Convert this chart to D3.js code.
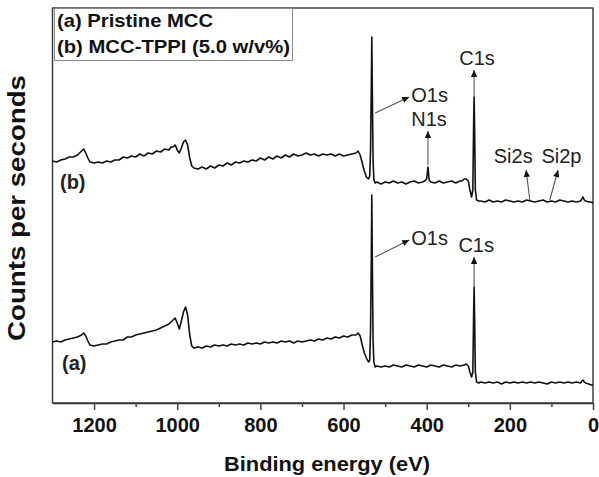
<!DOCTYPE html>
<html>
<head>
<meta charset="utf-8">
<script src="https://cdn.jsdelivr.net/npm/d3@7"></script>
<style>
  body { margin: 0; background: #fff; }
  svg { display: block; font-family: "Liberation Sans", Arial, sans-serif; }
</style>
</head>
<body>
<div id="chartDiv"></div>
<script>
// binding energy (eV) vs counts (a.u.)
var spectrumA = [[1300,61],[1290,62],[1280,61],[1270,63],[1260,64],[1250,65],[1240,66],[1235,67],[1230,68],[1225,70],[1220,67],[1215,62],[1210,58],[1200,57],[1190,58],[1180,59],[1170,59],[1160,61],[1150,62],[1140,63],[1130,63],[1120,66],[1110,66],[1100,68],[1090,69],[1080,70],[1070,71],[1060,72],[1050,73],[1040,75],[1030,77],[1020,79],[1015,81],[1010,83],[1005,85],[1000,80],[995,74],[990,82],[985,91],[980,96],[975,88],[970,68],[965,57],[960,55],[950,56],[940,55],[930,57],[920,56],[910,58],[900,57],[890,58],[880,57],[870,59],[860,58],[850,59],[840,58],[830,60],[820,59],[810,60],[800,59],[790,61],[780,60],[770,61],[760,60],[750,62],[740,61],[730,62],[720,60],[710,62],[700,61],[690,62],[680,63],[670,62],[660,64],[650,63],[640,65],[630,64],[620,66],[610,65],[600,67],[590,66],[580,68],[570,68],[565,70],[560,67],[555,58],[550,50],[545,45],[540,41],[537,43],[535,73],[533,153],[532,208],[531,153],[529,63],[527,41],[524,36],[520,37],[510,36],[500,37],[490,36],[480,38],[470,37],[460,36],[450,38],[440,37],[430,36],[420,38],[410,37],[400,36],[390,38],[380,37],[370,36],[360,38],[350,37],[340,36],[330,38],[320,37],[310,38],[305,39],[300,37],[296,31],[292,26],[289,31],[287,93],[286,116],[285,93],[283,31],[280,21],[275,20],[270,21],[260,20],[250,21],[240,20],[230,21],[220,19],[210,21],[200,20],[190,21],[180,20],[170,21],[160,20],[150,21],[140,20],[130,21],[120,20],[110,19],[100,21],[90,20],[80,21],[70,20],[60,21],[50,20],[40,21],[30,20],[27,22],[24,23],[21,21],[18,20],[10,19],[5,18],[0,18]];

var spectrumB = [[1300,242],[1290,241],[1280,243],[1270,244],[1260,246],[1250,246],[1240,248],[1235,250],[1230,252],[1225,254],[1220,250],[1215,245],[1210,241],[1200,240],[1190,241],[1180,240],[1170,242],[1160,241],[1150,243],[1140,243],[1130,246],[1120,245],[1110,247],[1100,246],[1090,249],[1080,247],[1070,250],[1060,249],[1050,252],[1040,251],[1030,254],[1020,253],[1015,256],[1010,256],[1005,258],[1000,253],[995,250],[990,255],[985,261],[980,263],[975,258],[970,245],[965,237],[960,235],[950,234],[940,236],[930,234],[920,237],[910,235],[900,238],[890,237],[880,240],[870,238],[860,241],[850,240],[840,242],[830,241],[820,243],[810,242],[800,245],[790,243],[780,246],[770,244],[760,247],[750,245],[740,248],[730,246],[720,249],[710,247],[700,248],[690,250],[680,248],[670,249],[660,247],[650,249],[640,248],[630,249],[620,247],[610,249],[600,247],[590,248],[580,249],[570,250],[565,252],[560,248],[555,240],[550,232],[545,226],[540,224],[537,227],[535,253],[533,323],[532,366],[531,323],[529,243],[527,223],[524,220],[520,221],[510,219],[500,221],[490,220],[480,222],[470,220],[460,221],[450,219],[440,221],[430,222],[420,220],[410,221],[405,222],[400,224],[397,236],[394,223],[390,221],[380,220],[370,222],[360,220],[350,221],[340,222],[330,220],[320,222],[315,222],[310,224],[305,224],[300,222],[296,213],[292,206],[289,213],[287,283],[286,306],[285,283],[283,213],[280,203],[275,202],[270,202],[260,201],[250,203],[240,201],[230,202],[220,201],[210,203],[200,202],[190,201],[180,202],[170,201],[160,203],[150,202],[140,201],[130,202],[120,203],[110,201],[100,202],[90,201],[80,203],[70,202],[60,201],[50,202],[40,201],[30,202],[27,204],[24,206],[21,203],[18,202],[10,201],[5,201],[0,200]];

var majorTicks = [1200, 1000, 800, 600, 400, 200, 0];
var minorTicks = [1100, 900, 700, 500, 300, 100];
var legendLabels = ["(a) Pristine MCC", "(b) MCC-TPPI (5.0 w/v%)"];

// peak labels and arrows, in data units (energy, counts)
var peakLabels = [
  {text: "O1s", e: 437, c: 301, anchor: "start"},
  {text: "N1s", e: 437, c: 277, anchor: "start"},
  {text: "C1s", e: 279, c: 338, anchor: "middle"},
  {text: "Si2s", e: 192, c: 240, anchor: "middle"},
  {text: "Si2p", e: 76, c: 240, anchor: "middle"},
  {text: "O1s", e: 437, c: 158, anchor: "start"},
  {text: "C1s", e: 281, c: 151, anchor: "middle"}
];
var peakArrows = [
  [524, 290, 442, 306],
  [397, 238, 397, 272],
  [286, 306, 286, 333],
  [152, 203, 161, 233],
  [104, 203, 84, 233],
  [524, 146, 442, 163],
  [286, 116, 286, 146]
];
var seriesLabels = [
  {text: "(b)", e: 1282, c: 214},
  {text: "(a)", e: 1277, c: 33}
];

var W = 599, H = 477;
var m = {t: 8, r: 6, b: 74, l: 52.5};

const svgObj = d3.select("#chartDiv").append("svg")
  .attr("width", W)
  .attr("height", H);

var xScale = d3.scaleLinear().domain([1300, 0]).range([m.l, W - m.r]);
var yScale = d3.scaleLinear().domain([0, 395]).range([H - m.b, m.t]);

var lineFn = d3.line()
  .x(d => xScale(d[0]))
  .y(d => yScale(d[1]));

// arrow head
svgObj.append("defs").append("marker")
  .attr("id", "arrowHead")
  .attr("viewBox", "0 0 10 10")
  .attr("refX", 10)
  .attr("refY", 5)
  .attr("markerWidth", 8)
  .attr("markerHeight", 7)
  .attr("markerUnits", "userSpaceOnUse")
  .attr("orient", "auto")
  .append("path")
  .attr("d", "M0,0.5 L10,5 L0,9.5 Z")
  .attr("fill", "#111");

// frame
svgObj.append("rect")
  .attr("x", m.l)
  .attr("y", m.t)
  .attr("width", W - m.r - m.l)
  .attr("height", H - m.b - m.t)
  .attr("fill", "none")
  .attr("stroke", "#333")
  .attr("stroke-width", 1.4);

// x axis, major + minor ticks
const xAxisG = svgObj.append("g")
  .attr("transform", `translate(0,${H - m.b})`)
  .call(d3.axisBottom(xScale).tickValues(majorTicks).tickFormat(d3.format("d"))
    .tickSize(7).tickSizeOuter(0).tickPadding(8));
xAxisG.select(".domain").attr("stroke", "#333").attr("stroke-width", 1.4);
xAxisG.selectAll(".tick line").attr("stroke", "#444").attr("stroke-width", 1.5);
xAxisG.selectAll(".tick text")
  .attr("font-size", "20px")
  .attr("font-weight", "bold")
  .attr("fill", "#111")
  .attr("font-family", "Liberation Sans, Arial, sans-serif");

svgObj.append("g")
  .attr("transform", `translate(0,${H - m.b})`)
  .call(d3.axisBottom(xScale).tickValues(minorTicks).tickSize(4).tickSizeOuter(0).tickFormat(""))
  .call(g => g.select(".domain").remove())
  .selectAll(".tick line").attr("stroke", "#444").attr("stroke-width", 1.5);

// axis titles
svgObj.append("text")
  .attr("x", 327)
  .attr("y", 471)
  .attr("text-anchor", "middle")
  .attr("font-size", "20px")
  .attr("font-weight", "bold")
  .attr("fill", "#111")
  .attr("textLength", 206)
  .attr("lengthAdjust", "spacingAndGlyphs")
  .text("Binding energy (eV)");

svgObj.append("text")
  .attr("transform", "translate(25,208) rotate(-90)")
  .attr("text-anchor", "middle")
  .attr("font-size", "24px")
  .attr("font-weight", "bold")
  .attr("fill", "#111")
  .attr("textLength", 266)
  .attr("lengthAdjust", "spacingAndGlyphs")
  .text("Counts per seconds");

// spectra
svgObj.selectAll(".spectrum")
  .data([spectrumA, spectrumB])
  .enter().append("path")
  .attr("class", "spectrum")
  .attr("d", lineFn)
  .attr("fill", "none")
  .attr("stroke", "#111")
  .attr("stroke-width", 1.6)
  .attr("stroke-linejoin", "round");

// arrows + labels
svgObj.selectAll(".peakArrow")
  .data(peakArrows)
  .enter().append("line")
  .attr("class", "peakArrow")
  .attr("x1", d => xScale(d[0]))
  .attr("y1", d => yScale(d[1]))
  .attr("x2", d => xScale(d[2]))
  .attr("y2", d => yScale(d[3]))
  .attr("stroke", "#555")
  .attr("stroke-width", 1.1)
  .attr("marker-end", "url(#arrowHead)");

svgObj.selectAll(".peakLabel")
  .data(peakLabels)
  .enter().append("text")
  .attr("class", "peakLabel")
  .attr("x", d => xScale(d.e))
  .attr("y", d => yScale(d.c))
  .attr("text-anchor", d => d.anchor)
  .attr("font-size", "20px")
  .attr("fill", "#222")
  .text(d => d.text);

svgObj.selectAll(".seriesLabel")
  .data(seriesLabels)
  .enter().append("text")
  .attr("class", "seriesLabel")
  .attr("x", d => xScale(d.e))
  .attr("y", d => yScale(d.c))
  .attr("font-size", "20px")
  .attr("font-weight", "bold")
  .attr("fill", "#222")
  .text(d => d.text);

// legend box
const legendG = svgObj.append("g");
legendG.append("rect")
  .attr("x", 54.5)
  .attr("y", 8.5)
  .attr("width", 238)
  .attr("height", 52)
  .attr("fill", "#fff")
  .attr("stroke", "#888")
  .attr("stroke-width", 1);
var legendWidths = [156, 233];
legendG.selectAll("text")
  .data(legendLabels)
  .enter().append("text")
  .attr("x", 57)
  .attr("y", (d, i) => 27 + i * 26)
  .attr("font-size", "19px")
  .attr("font-weight", "bold")
  .attr("fill", "#111")
  .attr("textLength", (d, i) => legendWidths[i])
  .attr("lengthAdjust", "spacingAndGlyphs")
  .text(d => d);
</script>
</body>
</html>
